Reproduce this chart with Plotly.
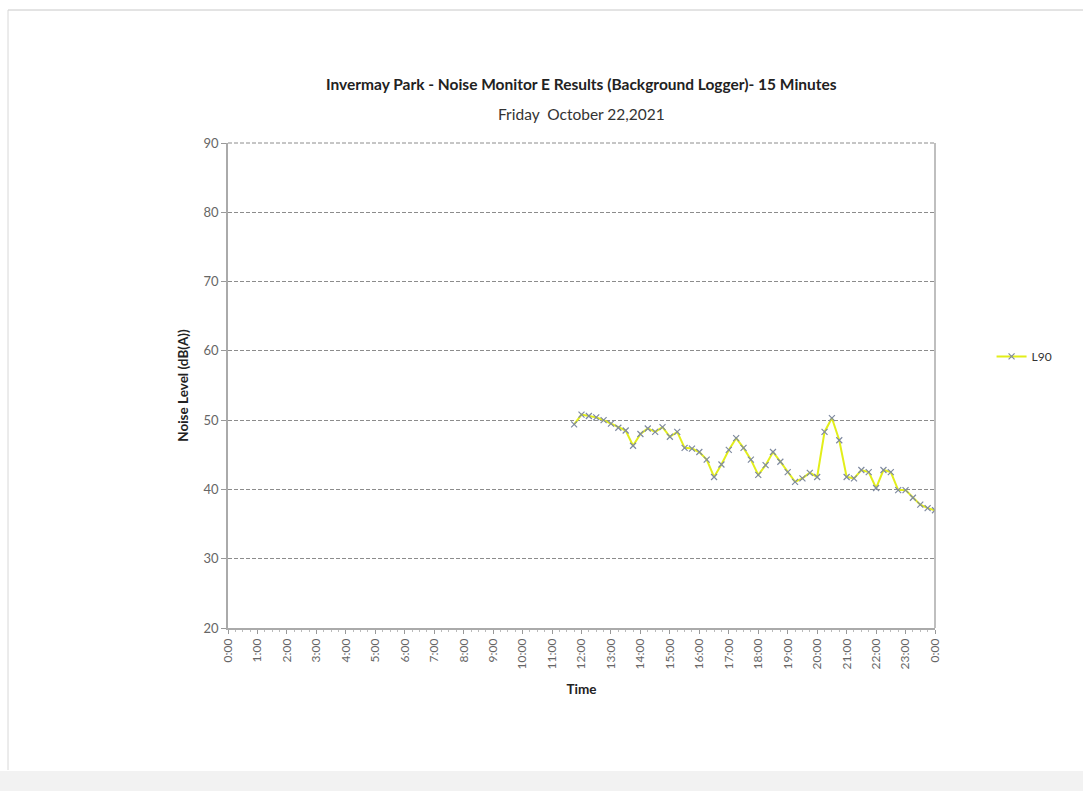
import plotly.graph_objects as go

# 15-minute L90 readings, Friday 22 Oct 2021 (hours from midnight)
start_hour = 11.75
interval_hours = 0.25
l90_db = [
    49.4, 50.8, 50.6, 50.4, 50.0, 49.5, 48.9, 48.5, 46.3, 48.0,
    48.8, 48.3, 49.0, 47.6, 48.3, 46.0, 45.9, 45.4, 44.3, 41.8,
    43.6, 45.7, 47.4, 46.0, 44.3, 42.1, 43.5, 45.4, 44.0, 42.5,
    41.1, 41.6, 42.4, 41.8, 48.3, 50.3, 47.1, 41.8, 41.6, 42.8,
    42.5, 40.2, 42.8, 42.5, 39.9, 39.9, 38.8, 37.8, 37.3, 37.0,
]
hours = [start_hour + i * interval_hours for i in range(len(l90_db))]

tick_hours = list(range(0, 25))
tick_labels = [f"{h % 24}:00" for h in tick_hours]

font_family = "Lato, 'Open Sans', sans-serif"
grid_dash = "4px,2px"
grid_color = "#8c8c8c"

fig = go.Figure()
fig.add_trace(go.Scatter(
    x=hours, y=l90_db, name="L90", mode="lines+markers",
    line=dict(color="#e2ee1a", width=2),
    marker=dict(symbol="x-thin", size=6, line=dict(color="#7f8aa0", width=1.2),
                color="#7f8aa0"),
))

fig.update_layout(
    width=1083, height=791,
    margin=dict(l=228, r=148, t=143, b=163),
    paper_bgcolor="white", plot_bgcolor="white",
    font=dict(family=font_family, color="#333"),
    showlegend=True,
    legend=dict(x=1.08, y=0.56, xanchor="left", yanchor="middle",
                font=dict(size=12, color="#333"), bgcolor="rgba(0,0,0,0)"),
    xaxis=dict(
        range=[0, 24], tickmode="array", tickvals=tick_hours, ticktext=tick_labels,
        tickangle=-90, tickfont=dict(size=12, color="#666"),
        ticks="outside", ticklen=4, tickcolor="#999",
        minor=dict(dtick=0.25, ticks="outside", ticklen=2, tickcolor="#bbb", showgrid=False),
        showgrid=False, zeroline=False,
        showline=True, linecolor="#aaa", linewidth=1.5, mirror=False,
        title=dict(text="<b>Time</b>", font=dict(size=13.5, color="#222"), standoff=16),
    ),
    yaxis=dict(
        range=[20, 90], dtick=10, tickfont=dict(size=13, color="#666"),
        ticks="outside", ticklen=5, tickcolor="#999",
        showgrid=True, gridcolor=grid_color, griddash=grid_dash, gridwidth=1,
        zeroline=False,
        showline=True, linecolor="#aaa", linewidth=1.5, mirror=False,
        title=dict(text="<b>Noise Level (dB(A))</b>", font=dict(size=13.5, color="#222"), standoff=12),
    ),
    annotations=[
        dict(text="<b>Invermay Park - Noise Monitor E Results (Background Logger)- 15 Minutes</b>",
             xref="paper", yref="paper", x=0.5, y=1.0 + (143 - 84) / 485,
             xanchor="center", yanchor="middle", showarrow=False,
             font=dict(size=15.5, color="#222")),
        dict(text="Friday  October 22,2021",
             xref="paper", yref="paper", x=0.5, y=1.0 + (143 - 114) / 485,
             xanchor="center", yanchor="middle", showarrow=False,
             font=dict(size=15.5, color="#333")),
    ],
    shapes=[
        # top gridline at 90 dB
        dict(type="line", xref="paper", yref="paper", x0=0, x1=1, y0=1, y1=1,
             line=dict(color=grid_color, width=1, dash=grid_dash)),
        # right edge of the plot area
        dict(type="line", xref="paper", yref="paper", x0=1, x1=1, y0=0, y1=1,
             line=dict(color="#aaa", width=1.5)),
        # chart area frame (top and left edges)
        dict(type="line", xref="paper", yref="paper",
             x0=(8 - 228) / 707, x1=(1083 - 228) / 707,
             y0=1 + (143 - 10) / 485, y1=1 + (143 - 10) / 485,
             line=dict(color="#c8c8c8", width=1)),
        dict(type="line", xref="paper", yref="paper",
             x0=(8 - 228) / 707, x1=(8 - 228) / 707,
             y0=1 + (143 - 10) / 485, y1=-(770 - 628) / 485,
             line=dict(color="#d8d8d8", width=1)),
        # grey strip along the bottom of the page
        dict(type="rect", xref="paper", yref="paper",
             x0=-228 / 707, x1=(1083 - 228) / 707,
             y0=-(791 - 628) / 485, y1=-(771 - 628) / 485,
             fillcolor="#f2f2f2", line=dict(width=0), layer="below"),
    ],
)

fig.write_html("out.html")
